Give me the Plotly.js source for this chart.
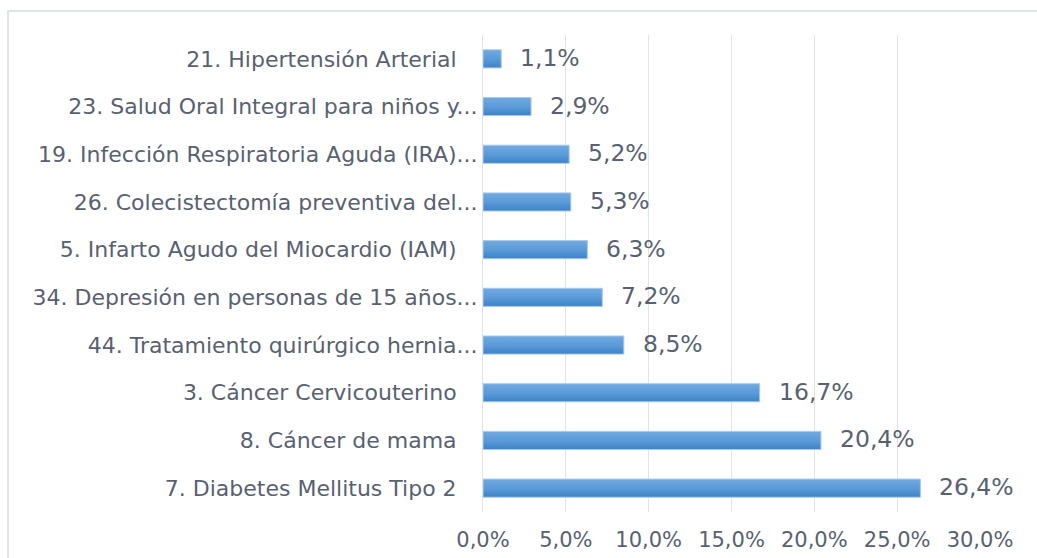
<!DOCTYPE html>
<html>
<head>
<meta charset="utf-8">
<script src="https://cdn.plot.ly/plotly-3.0.1.min.js"></script>
<style>
  html, body { margin: 0; padding: 0; background: #ffffff; }
  #frame { position: absolute; left: 7px; top: 10px; width: 1100px; height: 600px;
           border-top: 2px solid #dfe4ec; border-left: 2px solid #dfe4ec; box-sizing: border-box; }
  #chart { position: absolute; left: 0; top: 0; width: 1037px; height: 558px; }
</style>
</head>
<body>
<div id="frame"></div>
<div id="chart"></div>
<script>
// Categories from top to bottom as shown in the chart
const categories = [
  "21. Hipertensión Arterial",
  "23. Salud Oral Integral para niños y...",
  "19. Infección Respiratoria Aguda (IRA)...",
  "26. Colecistectomía preventiva del...",
  "5. Infarto Agudo del Miocardio (IAM)",
  "34. Depresión en personas de 15 años...",
  "44. Tratamiento quirúrgico hernia...",
  "3. Cáncer Cervicouterino",
  "8. Cáncer de mama",
  "7. Diabetes Mellitus Tipo 2"
];
const values = [0.011, 0.029, 0.052, 0.053, 0.063, 0.072, 0.085, 0.167, 0.204, 0.264];
const valueLabels = ["1,1%", "2,9%", "5,2%", "5,3%", "6,3%", "7,2%", "8,5%", "16,7%", "20,4%", "26,4%"];
const tickValues = [0, 0.05, 0.10, 0.15, 0.20, 0.25, 0.30];
const tickLabels = ["0,0%", "5,0%", "10,0%", "15,0%", "20,0%", "25,0%", "30,0%"];

const textColor = "#586172";
const fontFamily = "DejaVu Sans, sans-serif";

// Untruncated labels carry trailing padding like the original
const tickText = categories.map(c => c.endsWith("...") ? c : c + "\u00a0\u00a0\u00a0");

const data = [{
  type: "bar",
  orientation: "h",
  x: values,
  y: categories,
  marker: { color: "#4f90d4", line: { color: "#a9c9ec", width: 1 } },
  width: 0.38,
  hoverinfo: "none"
}];

const annotations = categories.map((c, i) => ({
  x: values[i], y: c, xref: "x", yref: "y",
  text: valueLabels[i], showarrow: false,
  xanchor: "left", yanchor: "middle", xshift: 17, yshift: 1,
  font: { family: fontFamily, size: 23.5, color: textColor }
}));

const layout = {
  width: 1037, height: 558,
  margin: { l: 483, r: 57, t: 35, b: 46 },
  paper_bgcolor: "rgba(0,0,0,0)",
  plot_bgcolor: "rgba(0,0,0,0)",
  showlegend: false,
  separators: ",.",
  xaxis: {
    range: [0, 0.30],
    tickvals: tickValues, ticktext: tickLabels,
    showgrid: true, gridcolor: "#dfe4ec", gridwidth: 1,
    zeroline: false, showline: false, ticks: "",
    ticklabelstandoff: 13,
    tickfont: { family: fontFamily, size: 21, color: textColor },
    fixedrange: true
  },
  yaxis: {
    type: "category",
    autorange: "reversed",
    tickvals: categories, ticktext: tickText,
    showgrid: false, zeroline: false,
    showline: true, linecolor: "#dfe4ec", linewidth: 1,
    ticks: "", ticklabelstandoff: 0,
    tickfont: { family: fontFamily, size: 22, color: textColor },
    fixedrange: true
  },
  annotations: annotations
};

Plotly.newPlot("chart", data, layout, { staticPlot: true, displayModeBar: false }).then(gd => {
  const ns = "http://www.w3.org/2000/svg";
  const svg = gd.querySelector("svg.main-svg");
  let defs = svg.querySelector("defs");
  if (!defs) { defs = document.createElementNS(ns, "defs"); svg.insertBefore(defs, svg.firstChild); }
  const lg = document.createElementNS(ns, "linearGradient");
  lg.setAttribute("id", "barGrad");
  lg.setAttribute("x1", "0"); lg.setAttribute("y1", "0");
  lg.setAttribute("x2", "0"); lg.setAttribute("y2", "1");
  [["0", "#72aae0"], ["0.5", "#5b9bd8"], ["1", "#3d83c8"]].forEach(([o, c]) => {
    const s = document.createElementNS(ns, "stop");
    s.setAttribute("offset", o); s.setAttribute("stop-color", c);
    lg.appendChild(s);
  });
  defs.appendChild(lg);
  gd.querySelectorAll(".barlayer .point path").forEach(p => { p.style.fill = "url(#barGrad)"; });
});
</script>
</body>
</html>
